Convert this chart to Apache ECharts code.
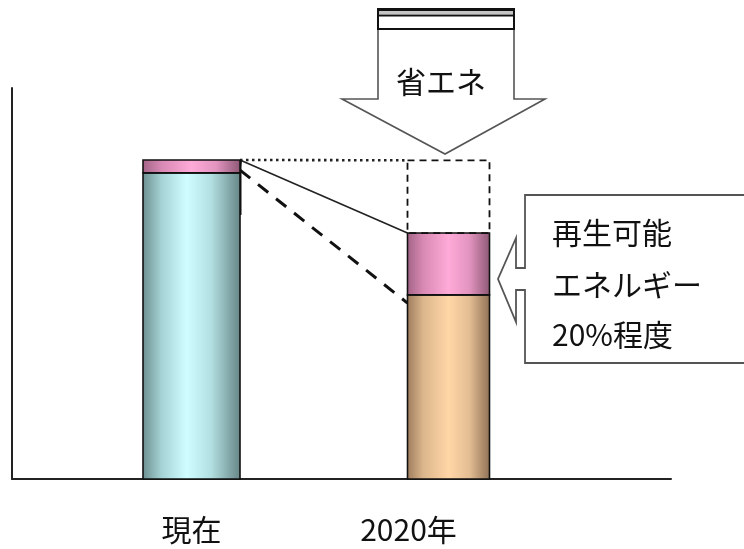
<!DOCTYPE html>
<html>
<head>
<meta charset="utf-8">
<script src="https://cdn.jsdelivr.net/npm/echarts@6/dist/echarts.min.js"></script>
<style>
  html, body { margin: 0; padding: 0; background: #fff; }
  #chart { width: 744px; height: 549px; }
</style>
</head>
<body>
<div id="chart"></div>
<script>
// ---- data ----
const categories = ['現在', '2020年'];
const baseDemand = [78.3, 47.1];   // cyan (現在) / orange (2020年)
const renewable = [3.3, 15.8];     // pink: 再生可能エネルギー
const savings = [0, 18.6];         // dashed box: 省エネ分
const trendLine = [79.0, 45.0];    // dashed guide line levels (start, end)
const calloutLines = ['再生可能', 'エネルギー', '20%程度'];
const arrowLabel = '省エネ';

// ---- styles ----
const FONT = '"Noto Sans CJK JP", "Noto Sans CJK SC", sans-serif';
const barWidths = [97, 82];
const labelShift = [0, 80];
const G = echarts.graphic.LinearGradient;
const baseFills = [
  new G(0, 0, 1, 0, [
    { offset: 0, color: '#6c8e8f' }, { offset: 0.2, color: '#a6d4d6' },
    { offset: 0.45, color: '#d0fdff' }, { offset: 0.7, color: '#b2dfe1' },
    { offset: 1, color: '#668586' }]),
  new G(0, 0, 1, 0, [
    { offset: 0, color: '#9c7b5c' }, { offset: 0.2, color: '#dcb68c' },
    { offset: 0.5, color: '#ffd6a6' }, { offset: 0.75, color: '#e3bd93' },
    { offset: 1, color: '#8e7055' }])
];
const pinkFill = new G(0, 0, 1, 0, [
  { offset: 0, color: '#a26385' }, { offset: 0.2, color: '#d88ab4' },
  { offset: 0.5, color: '#ffaad8' }, { offset: 0.75, color: '#e294bf' },
  { offset: 1, color: '#8c5774' }]);

const barData = categories.map((c, i) => [i, baseDemand[i], renewable[i], savings[i]]);

function renderBar(params, api) {
  const i = api.value(0), b = api.value(1), r = api.value(2), s = api.value(3);
  const p0 = api.coord([i, 0]);
  const w = barWidths[i];
  const x = p0[0] - w / 2;
  const y0 = p0[1];
  const yb = api.coord([i, b])[1];
  const yr = api.coord([i, b + r])[1];
  const ys = api.coord([i, b + r + s])[1];
  const children = [
    { type: 'rect', shape: { x: x, y: yb, width: w, height: y0 - yb },
      style: { fill: baseFills[i], stroke: '#111', lineWidth: 1.6 } },
    { type: 'rect', shape: { x: x, y: yr, width: w, height: yb - yr },
      style: { fill: pinkFill, stroke: '#111', lineWidth: 1.6 } }
  ];
  if (s > 0) {
    children.push({ type: 'rect', shape: { x: x, y: ys, width: w, height: yr - ys },
      style: { fill: 'none', stroke: '#111', lineWidth: 1.8, lineDash: [7, 5] } });
  }
  return { type: 'group', children: children };
}

function renderLinks(params, api) {
  const a = api.value(0), c = api.value(1);
  const x1 = api.coord([a, 0])[0] + barWidths[a] / 2;
  const x2 = api.coord([c, 0])[0] - barWidths[c] / 2;
  const topA = api.coord([a, baseDemand[a] + renewable[a] + savings[a]])[1];
  const topC = api.coord([c, baseDemand[c] + renewable[c] + savings[c]])[1];
  const renC = api.coord([c, baseDemand[c] + renewable[c]])[1];
  const t1 = api.coord([a, trendLine[0]])[1];
  const t2 = api.coord([c, trendLine[1]])[1];
  return { type: 'group', children: [
    { type: 'line', shape: { x1: x1, y1: topA, x2: x2, y2: topC },
      style: { stroke: '#222', lineWidth: 2.6, lineDash: [2.5, 3.5] } },
    { type: 'line', shape: { x1: x1, y1: topA, x2: x2, y2: renC },
      style: { stroke: '#222', lineWidth: 1.6 } },
    { type: 'line', shape: { x1: x1, y1: t1, x2: x2, y2: t2 },
      style: { stroke: '#111', lineWidth: 3, lineDash: [13, 10] } },
    { type: 'polygon', shape: { points: [[x1 - 8, topA], [x1 + 2, topA], [x1 + 1, topA + 7]] },
      style: { fill: '#111' } },
    { type: 'rect', shape: { x: x1 - 2, y: topA, width: 3.5, height: 55 },
      style: { fill: '#111' } }
  ] };
}

const chart = echarts.init(document.getElementById('chart'), null, { renderer: 'canvas' });
chart.setOption({
  animation: false,
  backgroundColor: '#fff',
  grid: [
    { left: 12, right: 73, top: 88, bottom: 70 },   // frame
    { left: 63, right: 167, top: 88, bottom: 70 }   // bars
  ],
  xAxis: [
    { gridIndex: 0, type: 'value', min: 0, max: 1,
      axisLine: { show: true, lineStyle: { color: '#222', width: 2 } },
      axisTick: { show: false }, axisLabel: { show: false }, splitLine: { show: false } },
    { gridIndex: 1, type: 'category', data: categories,
      axisLine: { show: false }, axisTick: { show: false }, splitLine: { show: false },
      axisLabel: {
        margin: 36, fontSize: 30, color: '#111', fontFamily: FONT,
        formatter: function (v, idx) { return '{l' + idx + '|' + v + '}'; },
        rich: {
          l0: { fontSize: 30, fontFamily: FONT, color: '#111', padding: [0, labelShift[0], 0, 0] },
          l1: { fontSize: 30, fontFamily: FONT, color: '#111', padding: [0, labelShift[1], 0, 0] }
        }
      } }
  ],
  yAxis: [
    { gridIndex: 0, type: 'value', min: 0, max: 100,
      axisLine: { show: true, lineStyle: { color: '#222', width: 2 } },
      axisTick: { show: false }, axisLabel: { show: false }, splitLine: { show: false } },
    { gridIndex: 1, type: 'value', min: 0, max: 100, show: false, splitLine: { show: false } }
  ],
  series: [
    { type: 'custom', name: 'links', xAxisIndex: 1, yAxisIndex: 1, z: 3,
      data: [[0, 1]], renderItem: renderLinks, silent: true },
    { type: 'custom', name: 'bars', xAxisIndex: 1, yAxisIndex: 1, z: 4,
      data: barData, renderItem: renderBar, silent: true }
  ],
  graphic: [
    // 省エネ arrow
    { type: 'polygon', z: 10,
      shape: { points: [[378, 29], [514, 29], [514, 99], [545, 99], [445, 154], [342, 99], [378, 99]] },
      style: { fill: '#fff', stroke: '#555', lineWidth: 1.6 } },
    { type: 'rect', z: 11, shape: { x: 378, y: 9, width: 136, height: 20 },
      style: { fill: '#fff', stroke: '#111', lineWidth: 2 } },
    { type: 'rect', z: 11, shape: { x: 379, y: 10.5, width: 134, height: 3.5 },
      style: { fill: '#c4c4c4' } },
    { type: 'line', z: 11, shape: { x1: 378, y1: 9.5, x2: 514, y2: 9.5 },
      style: { stroke: '#111', lineWidth: 3 } },
    { type: 'line', z: 11, shape: { x1: 378, y1: 15.5, x2: 514, y2: 15.5 },
      style: { stroke: '#111', lineWidth: 2.2 } },
    { type: 'text', z: 12, x: 441, y: 82,
      style: { text: arrowLabel, font: '30px ' + FONT, fill: '#111', align: 'center', verticalAlign: 'middle' } },
    // callout
    { type: 'polygon', z: 10,
      shape: { points: [[760, 195], [525, 195], [525, 268], [516, 268], [516, 238], [498, 279],
                        [516, 322], [516, 290], [525, 290], [525, 363], [760, 363]] },
      style: { fill: '#fff', stroke: '#555', lineWidth: 1.8 } },
    { type: 'text', z: 12, x: 552, y: 233,
      style: { text: calloutLines[0], font: '30px ' + FONT, fill: '#111', align: 'left', verticalAlign: 'middle' } },
    { type: 'text', z: 12, x: 552, y: 285,
      style: { text: calloutLines[1], font: '30px ' + FONT, fill: '#111', align: 'left', verticalAlign: 'middle' } },
    { type: 'text', z: 12, x: 552, y: 335,
      style: { text: calloutLines[2], font: '30px ' + FONT, fill: '#111', align: 'left', verticalAlign: 'middle' } }
  ]
});
</script>
</body>
</html>
